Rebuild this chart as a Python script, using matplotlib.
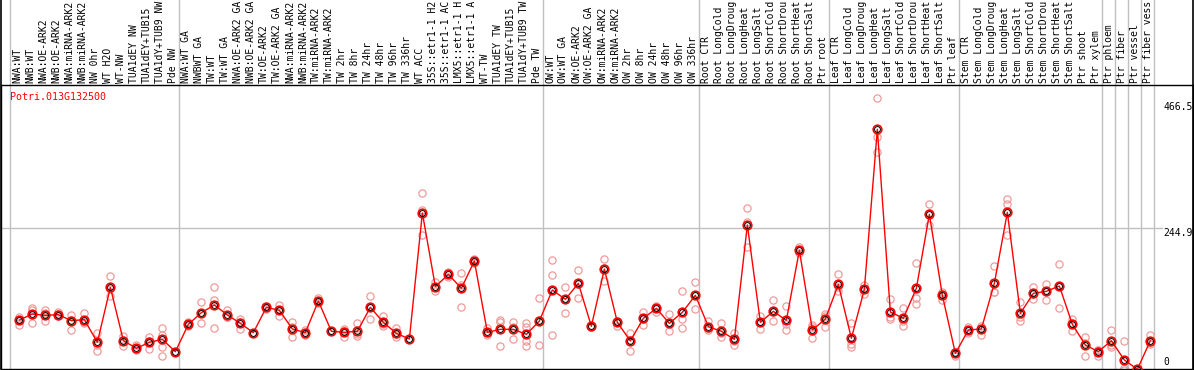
import numpy as np
import matplotlib.pyplot as plt
from matplotlib.transforms import blended_transform_factory

# Sample names as printed above the chart (cut to 14 characters)
sample_labels = [
    "NWA:WT", "NWB:WT", "NWA:OE-ARK2", "NWB:OE-ARK2", "NWA:miRNA-ARK2",
    "NWB:miRNA-ARK2", "NW 0hr", "WT H2O", "WT-NW", "TUA1dEY NW",
    "TUA1dEY+TUB15", "TUA1dY+TUB9 NW", "Pde NW",
    "NWA:WT GA", "NWBWT GA", "TW:WT", "TW:WT GA", "NWA:OE-ARK2 GA",
    "NWB:OE-ARK2 GA", "TW:OE-ARK2", "TW:OE-ARK2 GA", "NWA:miRNA-ARK2",
    "NWB:miRNA-ARK2", "TW:miRNA-ARK2", "TW:miRNA-ARK2", "TW 2hr", "TW 8hr",
    "TW 24hr", "TW 48hr", "TW 96hr", "TW 336hr", "WT ACC", "35S::etr1-1 H2",
    "35S::etr1-1 AC", "LMX5::etr1-1 H", "LMX5::etr1-1 A", "WT-TW",
    "TUA1dEY TW", "TUA1dEY+TUB15", "TUA1dY+TUB9 TW", "Pde TW",
    "OW:WT", "OW:WT GA", "OW:OE-ARK2", "OW:OE-ARK2 GA", "OW:miRNA-ARK2",
    "OW:miRNA-ARK2", "OW 2hr", "OW 8hr", "OW 24hr", "OW 48hr", "OW 96hr",
    "OW 336hr",
    "Root CTR", "Root LongCold", "Root LongDroug", "Root LongHeat",
    "Root LongSalt", "Root ShortCold", "Root ShortDrou", "Root ShortHeat",
    "Root ShortSalt", "Ptr root",
    "Leaf CTR", "Leaf LongCold", "Leaf LongDroug", "Leaf LongHeat",
    "Leaf LongSalt", "Leaf ShortCold", "Leaf ShortDrou", "Leaf ShortHeat",
    "Leaf ShortSalt", "Ptr leaf",
    "Stem CTR", "Stem LongCold", "Stem LongDroug", "Stem LongHeat",
    "Stem LongSalt", "Stem ShortCold", "Stem ShortDrou", "Stem ShortHeat",
    "Stem ShortSalt", "Ptr shoot", "Ptr xylem",
    "Ptr phloem", "Ptr fiber", "Ptr vessel", "Ptr fiber vess",
]

# Mean expression level of each sample
mean_values = [
    87.5, 97.8, 95.5, 96.7, 86.4, 88.1, 49.2, 143.6, 52.1, 38.9, 49.2, 54.3, 33.2,
    80.1, 100.1, 113.3, 96.1, 81.8, 65.8, 109.3, 104.1, 72.1, 65.8, 120.1, 68.1,
    66.4, 68.1, 109.3, 83.5, 64.6, 54.9, 271.2, 144.7, 165.9, 141.9, 188.8, 66.4,
    71.5, 71.5, 62.9, 85.8,
    139.0, 123.0, 150.5, 76.7, 175.1, 83.5, 51.5, 90.4, 107.6, 81.8, 100.7, 129.9,
    76.1, 68.1, 54.3, 250.6, 83.5, 102.4, 87.0, 207.1, 70.4, 89.2,
    148.7, 56.1, 140.2, 414.8, 101.3, 90.4, 141.9, 268.9, 129.9, 30.3,
    70.4, 72.1, 150.5, 272.3, 99.0, 133.3, 136.7, 145.9, 80.1, 44.6, 33.2,
    52.1, 18.9, 2.9, 52.1,
]

# Individual replicates of each sample
replicate_values = [
    [92, 88, 79], [108, 104, 82], [104, 100, 86], [102, 98, 95], [96, 88, 70],
    [100, 84, 82], [66, 45, 35], [163, 141, 128], [60, 53, 43], [45, 38, 36],
    [58, 52, 37], [73, 62, 41, 26], [33],
    [84, 79, 78], [118, 100, 82], [145, 121, 73], [104, 93, 92], [90, 84, 72],
    [66, 65], [112, 110, 106], [113, 105, 94], [84, 75, 58], [70, 66, 62],
    [125, 120, 117], [69, 68], [72, 68, 59], [82, 64, 60], [129, 109, 90],
    [94, 80, 77], [73, 63, 59], [55], [305, 276, 233], [152, 145, 137],
    [170, 166, 162], [168, 148, 109], [192, 188, 186], [73, 66, 62],
    [88, 84, 43], [84, 75, 55], [83, 75, 52, 43], [126, 88, 44],
    [190, 164, 61], [145, 124, 100], [174, 150, 126], [78, 76], [193, 177, 155],
    [86, 84, 77], [66, 54, 35], [102, 90, 79], [112, 108, 102], [97, 82, 68],
    [138, 90, 74], [152, 130, 106],
    [86, 74, 70], [82, 66, 58], [66, 52, 44], [279, 256, 213], [94, 84, 72],
    [121, 102, 85], [112, 80, 70], [213, 207, 202], [79, 75, 56], [98, 94, 75],
    [166, 144, 137], [82, 46, 42], [148, 140, 133], [468, 402, 375],
    [123, 93, 89], [108, 86, 77], [186, 126, 115], [286, 271, 251],
    [135, 133, 122], [33, 31, 26],
    [76, 71, 65], [77, 72, 61], [181, 136, 135], [296, 286, 233], [118, 92, 86],
    [144, 133, 124], [150, 138, 122], [183, 146, 108], [90, 82, 68],
    [59, 48, 26], [36, 36, 26], [71, 45, 42],
    [51, 5, 2], [3], [62, 50, 47],
]

# First sample of each tissue block (gray separators), plus the closing edge
group_starts = [0, 13, 41, 53, 63, 73, 84, 85, 86, 87, 88]

gene_id = "Potri.013G132500"
axis_marks = ["466.5", "244.9", "0"]
axis_mark_values = [466.5, 244.9, 0.0]

# Pixel layout of the 1194x370 picture
FIG_W, FIG_H = 1194, 370
PX_LEFT, PX_RIGHT = 1, 1193
PX_TOP, PX_BOTTOM = 85, 369.3
COL0, COL_W = 10, 13
ZERO_PX, PX_PER_UNIT = 371, 0.5827


def px_x(px):
    """Horizontal pixel -> sample coordinate."""
    return (px - COL0) / COL_W


def px_y(py):
    """Vertical pixel (from top) -> expression value."""
    return (ZERO_PX - py) / PX_PER_UNIT


def plot_expression():
    fig = plt.figure(figsize=(FIG_W / 100, FIG_H / 100), dpi=100)
    fig.patch.set_facecolor('white')
    ax = fig.add_axes([PX_LEFT / FIG_W, (FIG_H - PX_BOTTOM) / FIG_H,
                       (PX_RIGHT - PX_LEFT) / FIG_W, (PX_BOTTOM - PX_TOP) / FIG_H])
    ax.set_xlim(px_x(PX_LEFT), px_x(PX_RIGHT))
    ax.set_ylim(px_y(PX_BOTTOM), px_y(PX_TOP))
    ax.set_xticks([])
    ax.set_yticks([])
    for side in ax.spines.values():
        side.set_color('black')
        side.set_linewidth(1.0)

    mono = 'DejaVu Sans Mono'
    top_frac = (FIG_H - (FIG_H - PX_BOTTOM)) / (PX_BOTTOM - PX_TOP)  # figure top in axes fraction

    # separators between tissue blocks run through the label band as well
    for g in group_starts:
        ax.axvline(g, ymin=0, ymax=top_frac, color='#c0c0c0', lw=1.0,
                   clip_on=False, zorder=0)
    for edge in (px_x(PX_LEFT), px_x(PX_RIGHT)):
        ax.axvline(edge, ymin=0, ymax=top_frac, color='black', lw=1.2,
                   clip_on=False, zorder=1)

    # single horizontal reference line
    ax.plot([px_x(PX_LEFT), px_x(1162)], [axis_mark_values[1]] * 2,
            color='#c0c0c0', lw=1.0, zorder=0)

    x = np.arange(len(sample_labels))
    xp = x + 0.72

    # replicates
    for xi, reps in zip(xp, replicate_values):
        ax.plot([xi] * len(reps), reps, 'o', ms=5.2, mfc='none',
                mec='#f09a9a', mew=0.9, zorder=2)

    # mean profile
    ax.plot(xp, mean_values, '-', color='red', lw=1.0, zorder=3)
    ax.plot(xp, mean_values, 'o', ms=6.2, mfc='none', mec='red', mew=1.2, zorder=4)
    ax.plot(xp, mean_values, 'o', ms=4.2, mfc='none', mec='black', mew=0.7, zorder=5)

    # sample labels above the plot
    lab_tr = blended_transform_factory(ax.transData, ax.transAxes)
    lab_y = 1 + 2 / (PX_BOTTOM - PX_TOP)
    for xi, name in zip(x, sample_labels):
        ax.text(xi + 0.55, lab_y, name, rotation=90, ha='center', va='bottom',
                fontsize=7, family=mono, transform=lab_tr, clip_on=False)

    # gene name
    ax.text(0, px_y(97.5), gene_id, color='red', fontsize=7.2, family=mono,
            ha='left', va='center')

    # scale marks on the right
    mark_px = [107, 233, 362]
    for txt, py in zip(axis_marks, mark_px):
        ax.text(px_x(1163), px_y(py), txt, fontsize=7, family=mono,
                ha='left', va='center')

    fig.savefig('out.png', dpi=100, facecolor='white')


if __name__ == "__main__":
    plot_expression()
